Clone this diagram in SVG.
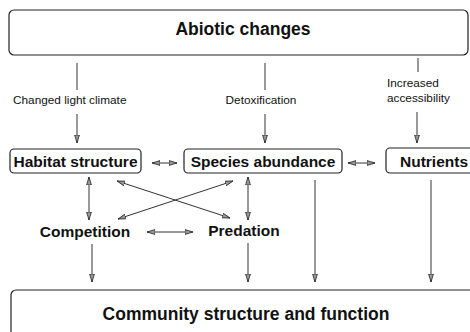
<svg xmlns="http://www.w3.org/2000/svg" width="470" height="332" viewBox="0 0 470 332">
<defs>
<style>
.box{fill:#fff;stroke:#222;stroke-width:1.2}
.big{font-family:"Liberation Sans",Arial,sans-serif;font-weight:bold;font-size:17.5px;fill:#111}
.node{font-family:"Liberation Sans",Arial,sans-serif;font-weight:bold;font-size:15.5px;fill:#111}
.lab{font-family:"Liberation Sans",Arial,sans-serif;font-size:11.8px;fill:#111}
.c{stroke:#333;stroke-width:1;fill:none}
.a{marker-end:url(#ah)}
.d{marker-start:url(#ah);marker-end:url(#ah)}
</style>
<marker id="ah" markerUnits="userSpaceOnUse" markerWidth="8" markerHeight="6" viewBox="0 0 8 6" refX="8" refY="3" orient="auto-start-reverse">
<path d="M0,0.6 L8,3 L0,5.4 z" fill="#999" stroke="#222" stroke-width="0.8"/>
</marker>
</defs>
<rect width="470" height="332" fill="#fff"/>
<g id="abiotic"><rect class="box" x="9" y="10" width="459" height="45" rx="5"/><text class="big" x="243" y="35" text-anchor="middle">Abiotic changes</text></g>
<g id="habitat"><rect class="box" x="10" y="149" width="131" height="24" rx="4"/><text class="node" x="75.5" y="167" text-anchor="middle">Habitat structure</text></g>
<g id="species"><rect class="box" x="184" y="149" width="158" height="24" rx="4"/><text class="node" x="263" y="167" text-anchor="middle">Species abundance</text></g>
<g id="nutrients"><rect class="box" x="386" y="148" width="92" height="25" rx="4"/><text class="node" x="400" y="167">Nutrients</text></g>
<g id="competition"><text class="node" x="85" y="237" text-anchor="middle">Competition</text></g>
<g id="predation"><text class="node" x="244" y="236" text-anchor="middle">Predation</text></g>
<g id="community"><rect class="box" x="11" y="290" width="470" height="60" rx="5"/><text class="big" x="246" y="320" text-anchor="middle">Community structure and function</text></g>
<g id="connectors">
<line class="c" x1="77" y1="63" x2="77" y2="90"/>
<line class="c a" x1="77" y1="114" x2="77" y2="143"/>
<text class="lab" x="13" y="104">Changed light climate</text>
<line class="c" x1="265" y1="63" x2="265" y2="90"/>
<line class="c a" x1="265" y1="114" x2="265" y2="143"/>
<text class="lab" x="261" y="104" text-anchor="middle">Detoxification</text>
<line class="c" x1="418" y1="58" x2="418" y2="72"/>
<line class="c a" x1="417" y1="112" x2="417" y2="143"/>
<text class="lab" x="387" y="87">Increased</text>
<text class="lab" x="387" y="102">accessibility</text>
<line class="c d" x1="152" y1="163" x2="177" y2="163"/>
<line class="c d" x1="348" y1="163" x2="375" y2="163"/>
<line class="c d" x1="89" y1="177" x2="89" y2="220"/>
<line class="c d" x1="248" y1="177" x2="248" y2="220"/>
<line class="c d" x1="117" y1="181" x2="230" y2="218"/>
<line class="c d" x1="233" y1="181" x2="118" y2="219"/>
<line class="c d" x1="147" y1="232" x2="193" y2="232"/>
<line class="c a" x1="92" y1="244" x2="92" y2="282"/>
<line class="c a" x1="248" y1="243" x2="248" y2="282"/>
<line class="c a" x1="315" y1="180" x2="315" y2="282"/>
<line class="c a" x1="431" y1="180" x2="431" y2="282"/>
</g>
</svg>
